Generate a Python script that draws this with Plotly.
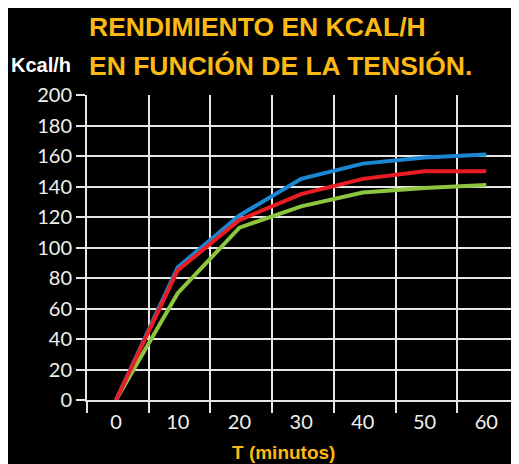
import plotly.graph_objects as go

minutes = [0, 10, 20, 30, 40, 50, 60]
blue_vals = [0, 87, 121, 145, 155, 159, 161]
red_vals = [0, 85, 118, 135, 145, 150, 150]
green_vals = [0, 70, 113, 127, 136, 139, 141]
x_ticks = [0, 10, 20, 30, 40, 50, 60]
y_ticks = [0, 20, 40, 60, 80, 100, 120, 140, 160, 180, 200]
grid_x = [-4.7, 5.3, 15.3, 25.3, 35.3, 45.3, 55.3]

# page body has an 8px margin; figure is sized so the plot lands where the reference has it
OFF = 8
fig = go.Figure()
for vals, col in [(green_vals, "#8cc63f"), (blue_vals, "#1b87d2"), (red_vals, "#ec1c24")]:
    fig.add_trace(go.Scatter(x=minutes, y=vals, mode="lines",
                             line=dict(color=col, width=4), showlegend=False))

tickfont = dict(family="Lato, Noto Sans, sans-serif", size=20, color="#f0f0f0")
fig.update_layout(
    width=519 - OFF, height=464 - OFF,
    paper_bgcolor="black", plot_bgcolor="black",
    margin=dict(l=87 - OFF, r=0, t=95 - OFF, b=64),
    xaxis=dict(range=[-4.7, 65.3], tickvals=x_ticks, showgrid=False, zeroline=False,
               ticks="", tickfont=tickfont, ticklabelstandoff=3,
               minor=dict(tickvals=grid_x, showgrid=True, gridcolor="#e6e6e6", gridwidth=2,
                          ticks="outside", ticklen=11, tickcolor="#e6e6e6", tickwidth=2),
               showline=True, linecolor="#e6e6e6", linewidth=2),
    yaxis=dict(range=[0, 200], tickvals=y_ticks, showgrid=True, gridcolor="#e6e6e6", gridwidth=2,
               zeroline=False, ticks="outside", ticklen=9, tickcolor="#e6e6e6", tickwidth=2,
               tickfont=tickfont, showline=True, linecolor="#e6e6e6", linewidth=2),
)

def py(ypix):
    return (400 - ypix) / 305

def px(xpix):
    return (xpix - 87) / 432

titlefont = dict(family="Liberation Sans, Arial, sans-serif", size=26.5, color="#fdb913")
fig.add_annotation(text="<b>RENDIMIENTO EN KCAL/H</b>", xref="paper", yref="paper",
                   x=px(87), y=py(27), xanchor="left", yanchor="middle",
                   showarrow=False, font=titlefont)
fig.add_annotation(text="<b>EN FUNCIÓN DE LA TENSIÓN.</b>", xref="paper", yref="paper",
                   x=px(87), y=py(66), xanchor="left", yanchor="middle",
                   showarrow=False, font=titlefont)
fig.add_annotation(text="<b>Kcal/h</b>", xref="paper", yref="paper",
                   x=px(41), y=py(65), xanchor="center", yanchor="middle",
                   showarrow=False, font=dict(family="Liberation Sans, Arial, sans-serif", size=20, color="white"))
fig.add_annotation(text="<b>T (minutos)</b>", xref="paper", yref="paper",
                   x=px(283), y=py(452), xanchor="center", yanchor="middle",
                   showarrow=False, font=dict(family="Liberation Sans, Arial, sans-serif", size=19, color="#fdb913"))

fig.write_html("out.html")
